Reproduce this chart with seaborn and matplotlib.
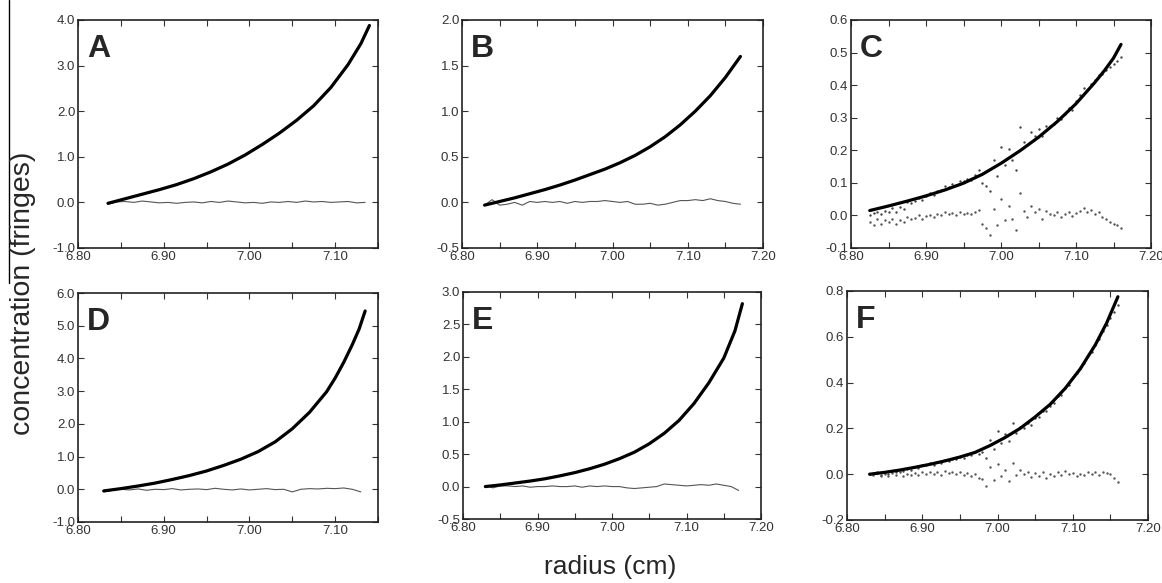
import numpy as np
import matplotlib
matplotlib.use('Agg')
import matplotlib.pyplot as plt
from matplotlib.lines import Line2D
from matplotlib.ticker import MultipleLocator, FormatStrFormatter
import seaborn as sns

# fitted curves (radius, fringes)
FIT_A_X = [6.835, 6.855, 6.875, 6.895, 6.915, 6.935, 6.955, 6.975, 6.995, 7.015, 7.035, 7.055, 7.075, 7.095,
           7.115, 7.13, 7.14]
FIT_A_Y = [-0.02, 0.08, 0.18, 0.28, 0.39, 0.52, 0.67, 0.84, 1.04, 1.27, 1.52, 1.80, 2.12, 2.52, 3.02, 3.48, 3.88]
FIT_B_X = [6.83, 6.85, 6.87, 6.89, 6.91, 6.93, 6.95, 6.97, 6.99, 7.01, 7.03, 7.05, 7.07, 7.09, 7.11, 7.13,
           7.15, 7.17]
FIT_B_Y = [-0.03, 0.01, 0.05, 0.095, 0.14, 0.19, 0.245, 0.305, 0.365, 0.435, 0.515, 0.61, 0.72, 0.85, 1.00,
           1.17, 1.37, 1.60]
FIT_C_X = [6.825, 6.85, 6.875, 6.90, 6.925, 6.95, 6.975, 7.00, 7.025, 7.05, 7.075, 7.10, 7.125, 7.138, 7.15, 7.16]
FIT_C_Y = [0.015, 0.029, 0.044, 0.060, 0.078, 0.099, 0.126, 0.160, 0.198, 0.240, 0.288, 0.343, 0.408, 0.445,
           0.483, 0.525]
FIT_D_X = [6.83, 6.85, 6.87, 6.89, 6.91, 6.93, 6.95, 6.97, 6.99, 7.01, 7.03, 7.05, 7.07, 7.09, 7.10, 7.11,
           7.12, 7.128, 7.135]
FIT_D_Y = [-0.05, 0.02, 0.10, 0.19, 0.30, 0.42, 0.56, 0.73, 0.92, 1.15, 1.45, 1.85, 2.35, 2.98, 3.40, 3.88,
           4.42, 4.90, 5.45]
FIT_E_X = [6.83, 6.85, 6.87, 6.89, 6.91, 6.93, 6.95, 6.97, 6.99, 7.01, 7.03, 7.05, 7.07, 7.09, 7.11, 7.13,
           7.15, 7.165, 7.175]
FIT_E_Y = [0.00, 0.025, 0.055, 0.085, 0.12, 0.165, 0.215, 0.275, 0.345, 0.43, 0.53, 0.66, 0.82, 1.02, 1.28,
           1.60, 1.98, 2.40, 2.82]
FIT_F_X = [6.83, 6.85, 6.87, 6.89, 6.91, 6.93, 6.95, 6.97, 6.99, 7.01, 7.03, 7.05, 7.07, 7.09, 7.11, 7.13,
           7.145, 7.16]
FIT_F_Y = [0.00, 0.008, 0.018, 0.030, 0.043, 0.058, 0.075, 0.095, 0.125, 0.16, 0.20, 0.25, 0.305, 0.375,
           0.46, 0.565, 0.66, 0.775]

# residual traces (evenly spaced scans between the given radii)
RES_A_RANGE = (6.835, 7.135)
RES_A = [-0.04, 0.01, 0.02, 0.00, 0.03, 0.01, -0.01, 0.00, -0.02, 0.00, 0.01, -0.01, 0.02, 0.00, 0.03, 0.01,
         -0.01, 0.00, -0.02, 0.01, 0.00, 0.02, 0.00, 0.03, 0.01, 0.02, 0.00, 0.01, 0.02, -0.01, 0.00]
RES_B_RANGE = (6.83, 7.17)
RES_B = [-0.03, 0.03, -0.03, -0.02, 0.00, -0.03, 0.01, 0.00, 0.01, 0.00, 0.01, -0.01, 0.01, 0.00, 0.01, 0.01,
         0.02, 0.01, 0.00, 0.01, -0.02, -0.02, -0.01, -0.03, -0.02, 0.00, 0.02, 0.02, 0.03, 0.02, 0.04, 0.02,
         0.01, -0.01, -0.02]
RES_D_RANGE = (6.83, 7.13)
RES_D = [-0.08, -0.03, 0.00, -0.02, 0.01, -0.03, 0.00, -0.01, 0.02, -0.02, 0.00, 0.01, -0.01, 0.03, 0.00, -0.02,
         0.01, -0.02, 0.00, 0.02, -0.01, 0.00, -0.08, 0.00, 0.02, 0.01, 0.03, 0.02, 0.04, 0.00, -0.08]
RES_E_RANGE = (6.83, 7.17)
RES_E = [0.02, -0.02, 0.01, 0.01, 0.00, 0.01, -0.01, 0.00, 0.00, 0.01, 0.00, 0.00, 0.01, -0.01, 0.01, 0.00,
         0.01, 0.00, 0.00, -0.02, -0.03, -0.02, -0.01, 0.00, 0.04, 0.03, 0.02, 0.01, 0.02, 0.03, 0.02, 0.04,
         0.02, 0.00, -0.06]

# dotted scans for the dilute samples C and F
SCAN_C_RANGE = (6.825, 7.16)
DATA_C = [0.000, 0.008, 0.012, 0.005, 0.015, 0.012, 0.022, 0.010, 0.025, 0.020, 0.040, 0.038, 0.045, 0.055,
          0.048, 0.060, 0.068, 0.062, 0.075, 0.078, 0.090, 0.086, 0.095, 0.092, 0.105, 0.105, 0.112, 0.110,
          0.125, 0.140, 0.100, 0.090, 0.075, 0.170, 0.120, 0.210, 0.155, 0.205, 0.170, 0.140, 0.270, 0.225,
          0.215, 0.255, 0.245, 0.265, 0.245, 0.275, 0.275, 0.280, 0.300, 0.295, 0.310, 0.330, 0.325, 0.350,
          0.370, 0.390, 0.385, 0.405, 0.415, 0.430, 0.435, 0.445, 0.455, 0.465, 0.475, 0.485]
RES_C = [-0.020, -0.030, -0.010, -0.025, -0.015, -0.020, -0.010, -0.025, -0.015, -0.020, -0.005, -0.010,
         -0.008, 0.000, -0.010, -0.003, 0.002, -0.005, 0.005, 0.000, 0.010, 0.003, 0.008, 0.002, 0.010, 0.005,
         0.008, 0.003, 0.012, 0.018, -0.025, -0.040, -0.060, 0.020, -0.030, 0.050, -0.015, 0.030, -0.010,
         -0.045, 0.070, 0.015, -0.005, 0.030, 0.010, 0.020, -0.010, 0.015, 0.005, 0.000, 0.010, -0.005, 0.005,
         0.012, -0.002, 0.008, 0.015, 0.022, 0.010, 0.018, 0.005, 0.010, -0.005, -0.010, -0.020, -0.025,
         -0.030, -0.040]
SCAN_F_RANGE = (6.83, 7.16)
DATA_F = [0.000, 0.000, 0.008, -0.002, 0.010, 0.002, 0.015, 0.008, 0.020, 0.012, 0.022, 0.020, 0.032, 0.028,
          0.040, 0.038, 0.050, 0.042, 0.053, 0.048, 0.062, 0.058, 0.068, 0.065, 0.075, 0.070, 0.085, 0.082,
          0.095, 0.090, 0.095, 0.070, 0.150, 0.110, 0.190, 0.135, 0.175, 0.145, 0.225, 0.180, 0.205, 0.200,
          0.225, 0.215, 0.245, 0.250, 0.275, 0.275, 0.300, 0.310, 0.340, 0.345, 0.375, 0.390, 0.425, 0.440,
          0.465, 0.485, 0.520, 0.535, 0.565, 0.590, 0.625, 0.650, 0.680, 0.710, 0.740]
RES_F = [0.000, -0.005, 0.005, -0.008, 0.002, -0.010, 0.005, -0.005, 0.008, -0.008, 0.000, -0.005, 0.005,
         -0.003, 0.008, 0.002, 0.010, 0.000, 0.008, -0.002, 0.012, 0.005, 0.010, 0.002, 0.008, -0.005, 0.005,
         -0.008, 0.002, -0.015, -0.020, -0.050, 0.030, -0.025, 0.045, -0.010, 0.020, -0.030, 0.050, -0.005,
         0.020, 0.000, 0.010, -0.012, 0.005, -0.008, 0.008, -0.015, 0.000, -0.010, 0.010, -0.005, 0.012, 0.000,
         0.005, -0.008, 0.003, -0.005, 0.010, 0.002, 0.008, -0.003, 0.010, 0.005, 0.000, -0.015, -0.035]

PANELS = ['A', 'B', 'C', 'D', 'E', 'F']
YLIMS = [(-1.0, 4.0), (-0.5, 2.0), (-0.1, 0.6), (-1.0, 6.0), (-0.5, 3.0), (-0.2, 0.8)]
YSTEPS = [1.0, 0.5, 0.1, 1.0, 0.5, 0.2]
XMAX = [7.15, 7.20, 7.20, 7.15, 7.20, 7.20]

sns.set_style('ticks')
plt.rcParams['font.family'] = ['Liberation Sans', 'DejaVu Sans']

fig = plt.figure(figsize=(11.62, 5.83), dpi=100)
boxes = [
    (78, 20, 300, 228), (462, 20, 301, 228), (851, 20, 300, 228),
    (78, 293, 300, 229), (463, 292, 298, 227), (847, 291, 301, 229),
]
W, H = 1162, 583
axes = [fig.add_axes([l / W, 1 - (t + h) / H, w / W, h / H]) for l, t, w, h in boxes]

fits = [(FIT_A_X, FIT_A_Y), (FIT_B_X, FIT_B_Y), (FIT_C_X, FIT_C_Y),
        (FIT_D_X, FIT_D_Y), (FIT_E_X, FIT_E_Y), (FIT_F_X, FIT_F_Y)]
resid_lines = {0: (RES_A_RANGE, RES_A), 1: (RES_B_RANGE, RES_B),
               3: (RES_D_RANGE, RES_D), 4: (RES_E_RANGE, RES_E)}
scans = {2: (SCAN_C_RANGE, DATA_C, RES_C), 5: (SCAN_F_RANGE, DATA_F, RES_F)}

for i, ax in enumerate(axes):
    if i in resid_lines:
        (x0, x1), r = resid_lines[i]
        rx = np.linspace(x0, x1, len(r))
        sns.lineplot(x=rx, y=r, ax=ax, color='#555555', lw=0.8, sort=False, estimator=None)
    if i in scans:
        (x0, x1), d, r = scans[i]
        sx = np.linspace(x0, x1, len(d))
        sns.scatterplot(x=sx, y=d, ax=ax, color='#444444', s=3, linewidth=0, marker='o')
        sns.scatterplot(x=sx, y=r, ax=ax, color='#555555', s=3, linewidth=0, marker='o')
    fx, fy = fits[i]
    sns.lineplot(x=fx, y=fy, ax=ax, color='black', lw=2.3, sort=False, estimator=None)

    ax.set_xlim(6.80, XMAX[i])
    ax.set_ylim(*YLIMS[i])
    ax.xaxis.set_major_locator(MultipleLocator(0.1))
    ax.xaxis.set_minor_locator(MultipleLocator(0.05))
    ax.xaxis.set_major_formatter(FormatStrFormatter('%.2f'))
    ax.yaxis.set_major_locator(MultipleLocator(YSTEPS[i]))
    ax.yaxis.set_major_formatter(FormatStrFormatter('%.1f'))
    ax.tick_params(which='both', direction='in', top=True, right=True, length=4,
                   width=0.8, color='#333333', labelsize=9.5, labelcolor='#333333', pad=2)
    ax.tick_params(which='minor', length=4)
    for s in ax.spines.values():
        s.set_linewidth(1.2)
        s.set_color('#222222')
    ax.set_xlabel('')
    ax.set_ylabel('')
    ax.text(0.03, 0.94, PANELS[i], transform=ax.transAxes, fontsize=23,
            fontweight='bold', va='top', ha='left')

# leftover rule at the left edge of the scanned figure
fig.add_artist(Line2D([9 / W, 9 / W], [1.0, 1 - 283 / H], color='black', lw=1.0))

fig.text(0.020, 0.497, 'concentration (fringes)', rotation=90, fontsize=20.5,
         ha='center', va='center')
fig.text(0.525, 0.028, 'radius (cm)', fontsize=19, ha='center', va='center')

fig.savefig('out.png', dpi=100)
